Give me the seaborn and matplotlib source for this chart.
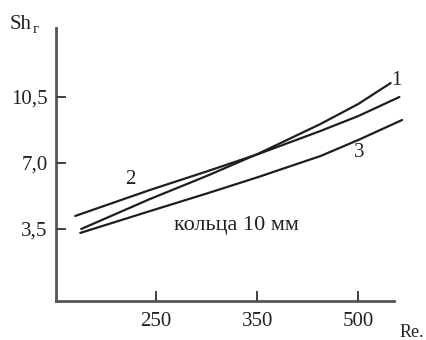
import numpy as np
import pandas as pd
import matplotlib
matplotlib.use("Agg")
import matplotlib.pyplot as plt
import seaborn as sns

# ---- data ----
re_1 = [176, 244, 300, 352, 444, 500, 548]
sh_1 = [3.50, 5.09, 6.31, 7.50, 9.07, 10.13, 11.24]

re_2 = [170, 244, 300, 352, 444, 500, 561]
sh_2 = [4.19, 5.57, 6.55, 7.48, 8.70, 9.49, 10.50]

re_3 = [175, 244, 300, 352, 444, 500, 565]
sh_3 = [3.29, 4.45, 5.38, 6.26, 7.37, 8.22, 9.28]

curve_names = ["1", "2", "3"]
x_ticks = [250, 350, 500]
x_tick_labels = ["250", "350", "500"]
y_ticks = [3.5, 7.0, 10.5]
y_tick_labels = ["3,5", "7,0", "10,5"]
annotation = "кольца 10 мм"

df = pd.DataFrame({
    "Re": re_1 + re_2 + re_3,
    "Sh": sh_1 + sh_2 + sh_3,
    "curve": ["1"] * len(re_1) + ["2"] * len(re_2) + ["3"] * len(re_3),
})

sns.set_theme(style="ticks")
plt.rcParams.update({
    "font.family": ["Liberation Serif", "DejaVu Serif"],
    "axes.axisbelow": False,
    "xtick.direction": "in", "ytick.direction": "in",
    "xtick.major.size": 7, "ytick.major.size": 7,
    "xtick.major.width": 1.4, "ytick.major.width": 1.4,
    "xtick.color": "#444444", "ytick.color": "#444444",
    "xtick.labelcolor": "#222222", "ytick.labelcolor": "#222222",
    "xtick.labelsize": 15, "ytick.labelsize": 15,
    "xtick.major.pad": 8, "ytick.major.pad": 6,
    "xtick.bottom": True, "ytick.left": True,
    "xtick.top": False, "ytick.right": False,
    "xtick.minor.visible": False, "ytick.minor.visible": False,
})

fig = plt.figure(figsize=(4.26, 3.40), dpi=100)
ax = fig.add_axes([56 / 426, 1 - 301 / 340, (394 - 56) / 426, (301 - 28) / 340])


# piecewise axis: the ticks 250, 350, 500 are equally spaced in the original
def fwd(r):
    r = np.asarray(r, dtype=float)
    return np.where(r <= 350, 1 + (r - 250) / 100.0, 2 + (r - 350) / 150.0)


def inv(u):
    u = np.asarray(u, dtype=float)
    return np.where(u <= 2, 250 + (u - 1) * 100.0, 350 + (u - 2) * 150.0)


ax.set_xscale("function", functions=(fwd, inv))

sns.lineplot(data=df, x="Re", y="Sh", hue="curve", estimator=None, sort=False,
             palette=["#1e1e1e"] * 3, linewidth=1.6, legend=False, ax=ax)
for ln in ax.get_lines():
    ln.set_clip_on(False)

ax.set_xticks(x_ticks)
ax.set_xticklabels(x_tick_labels)
ax.set_yticks(y_ticks)
ax.set_yticklabels(y_tick_labels)
ax.xaxis.set_minor_locator(matplotlib.ticker.NullLocator())
ax.yaxis.set_minor_locator(matplotlib.ticker.NullLocator())
ax.set_xlabel("")
ax.set_ylabel("")

# inward tick marks, placed at the tick positions on the axis transforms
ax.vlines(x_ticks, 0, 8 / 273, transform=ax.get_xaxis_transform(),
          colors="#444444", linewidth=1.4, clip_on=False, zorder=3)
ax.hlines(y_ticks, 0, 9 / 338, transform=ax.get_yaxis_transform(),
          colors="#444444", linewidth=1.4, clip_on=False, zorder=3)

ax.set_xlim(151, 553)
ax.set_ylim(-0.32, 14.16)

for side in ["top", "right"]:
    ax.spines[side].set_visible(False)
for side in ["left", "bottom"]:
    ax.spines[side].set_color("#555555")
    ax.spines[side].set_linewidth(2.0)

# curve labels
ax.text(556, 11.40, curve_names[0], fontsize=15, color="#222222", ha="center", va="center")
ax.text(225, 6.15, curve_names[1], fontsize=15, color="#222222", ha="center", va="center")
ax.text(502, 7.55, curve_names[2], fontsize=15, color="#222222", ha="center", va="center")
ax.text(329, 3.70, annotation, fontsize=16, color="#222222", ha="center", va="center")

# axis titles
fig.text(10 / 426, 1 - 29 / 340, "Sh", fontsize=15, color="#222222", ha="left", va="baseline")
fig.text(33 / 426, 1 - 33 / 340, "г", fontsize=11, color="#222222", ha="left", va="baseline")
fig.text(400 / 426, 1 - 324 / 340, "Re.", fontsize=13, color="#222222", ha="left", va="top")

fig.savefig("out.png", dpi=100)
